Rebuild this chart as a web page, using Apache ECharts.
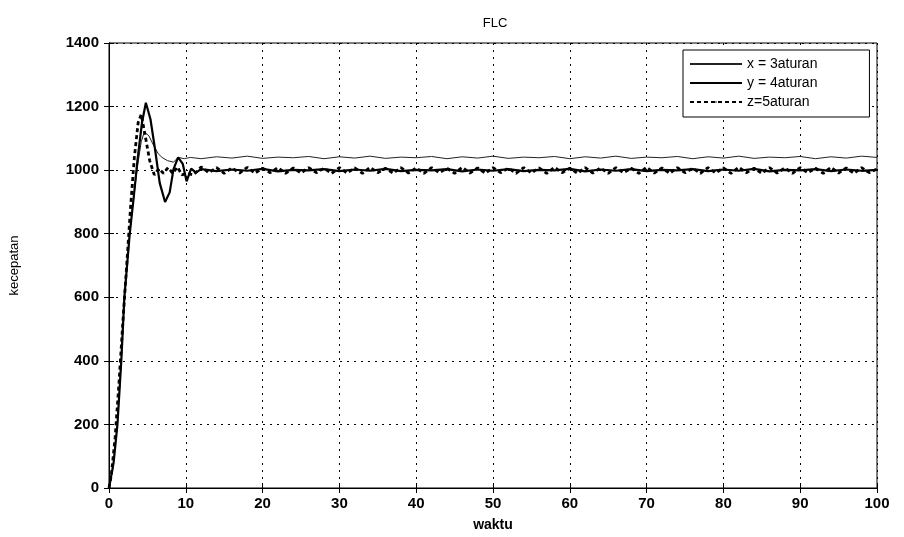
<!DOCTYPE html>
<html>
<head>
<meta charset="utf-8">
<script src="https://cdn.jsdelivr.net/npm/echarts@6/dist/echarts.min.js"></script>
<style>
html, body { margin: 0; padding: 0; background: #fff; }
#chart { width: 904px; height: 537px; }
</style>
</head>
<body>
<div id="chart"></div>
<script>
// nama seri (legend)
var seriesNames = ['x = 3aturan', 'y = 4aturan', 'z=5aturan'];
var xTicks = [0, 10, 20, 30, 40, 50, 60, 70, 80, 90, 100];
var yTicks = [0, 200, 400, 600, 800, 1000, 1200, 1400];

// seri 1: 3 aturan (garis tipis)
var s1Time = [0, 0.5, 1.1, 1.6, 2.0, 2.7, 3.2, 3.7, 4.2, 4.6, 5.2, 5.8, 6.4, 6.9, 7.6, 8.4, 9.0, 9.8, 10.6];
var s1Early = [0, 60, 200, 400, 600, 800, 910, 1010, 1090, 1120, 1108, 1078, 1052, 1040, 1030, 1025, 1040, 1036, 1040];
var s1Tail = [1036, 1042, 1038, 1044, 1037, 1041, 1039, 1043, 1036, 1042, 1038, 1044, 1037, 1041, 1039, 1043,
	1036, 1042, 1038, 1044, 1037, 1041, 1039, 1043, 1036, 1042, 1038, 1044, 1037, 1041, 1039, 1043,
	1036, 1042, 1038, 1044, 1037, 1041, 1039, 1043, 1036, 1042, 1038, 1044, 1040];

// seri 2: 4 aturan (garis tebal)
var s2Time = [0, 0.6, 1.1, 1.6, 2.0, 2.7, 3.2, 3.7, 4.3, 4.8, 5.4, 6.0, 6.6, 7.3, 7.9, 8.4, 9.0, 9.6, 10.1, 10.7, 11.3];
var s2Early = [0, 80, 200, 400, 600, 800, 910, 1030, 1150, 1212, 1160, 1065, 960, 900, 930, 1003, 1040, 1020, 965, 1005, 992];
var s2Tail = [1003, 997, 1002, 998, 1004, 996, 1001, 999, 1003, 997, 1002, 998, 1004, 997, 1001, 999,
	1003, 996, 1002, 998, 1003, 997, 1001, 999, 1004, 996, 1002, 998, 1003, 997, 1001, 999,
	1003, 997, 1002, 998, 1004, 996, 1001, 999, 1003, 997, 1002, 998, 1001];

// seri 3: 5 aturan (putus-putus)
var s3Time = [0, 0.3, 0.8, 1.3, 1.8, 2.3, 2.8, 3.3, 3.8, 4.2, 4.7, 5.3, 5.9, 6.5, 7.1, 7.7, 8.3, 8.9, 9.5, 10.1];
var s3Early = [0, 40, 160, 330, 520, 700, 880, 1040, 1150, 1175, 1110, 1030, 985, 1005, 990, 1008, 990, 1010, 985, 990];
var s3Tail = [985, 1010, 992, 1008, 990, 1007, 991, 1009, 990, 1006,
	992, 1008, 990, 1007, 991, 1008, 992, 1006, 990, 1008,
	991, 1007, 990, 1009, 992, 1006, 990, 1008, 991, 1007,
	990, 1008, 992, 1006, 990, 1009, 991, 1007, 990, 1008,
	992, 1006, 990, 1008, 991, 1007, 990, 1009, 992, 1006,
	990, 1008, 991, 1007, 990, 1008, 992, 1006, 990, 1009,
	991, 1007, 990, 1008, 992, 1006, 990, 1008, 991, 1007,
	990, 1009, 992, 1006, 990, 1008, 991, 1007, 990, 1008,
	992, 1006, 990, 1009, 991, 1007, 990, 1008, 992, 1004];

// titik waktu untuk bagian tunak
var tail2Time = [];
for (var t = 12; t <= 100; t += 2) tail2Time.push(t);
var tail1Time = [];
for (var t = 11; t <= 100; t += 1) tail1Time.push(t);

function pairs(time, vals) {
	var out = [];
	var n = Math.min(time.length, vals.length);
	for (var i = 0; i < n; i++) out.push([time[i], vals[i]]);
	return out;
}

function $ext(a, b) {
	var o = {};
	for (var k in a) o[k] = a[k];
	for (var k in b) o[k] = b[k];
	return o;
}

var fontName = '"Liberation Sans", Arial, sans-serif';

var myChart = echarts.init(document.getElementById('chart'));
var axisCommon = {
	type: 'value',
	axisLine: { show: true, lineStyle: { color: '#000', width: 1 } },
	axisTick: { show: true, inside: true, length: 5, lineStyle: { color: '#000' } }
};

var option = {
	backgroundColor: '#fff',
	animation: false,
	title: {
		text: 'FLC',
		left: 490,
		textAlign: 'center',
		top: 12,
		textStyle: { fontFamily: fontName, fontSize: 13, fontWeight: 'normal', color: '#000' }
	},
	legend: {
		orient: 'vertical',
		left: 683,
		top: 50,
		padding: [7, 52, 8, 6],
		itemGap: 5,
		itemWidth: 52,
		itemHeight: 2,
		backgroundColor: '#fff',
		borderColor: '#000',
		borderWidth: 1,
		borderRadius: 0,
		data: seriesNames,
		textStyle: { fontFamily: fontName, fontSize: 14, color: '#000' }
	},
	grid: {
		left: 107, right: 27, top: 43, bottom: 45,
		show: true, borderColor: '#000', borderWidth: 1
	},
	xAxis: [
		$ext(axisCommon, {
			min: 0, max: 100, interval: 10,
			name: 'waktu',
			nameLocation: 'middle',
			nameGap: 30,
			nameTextStyle: { fontFamily: fontName, fontSize: 14, fontWeight: 'bold', color: '#000' },
			axisLabel: {
				margin: 8, color: '#000', fontFamily: fontName, fontSize: 15, fontWeight: 'bold',
				formatter: function(v) { return xTicks.indexOf(v) >= 0 ? String(v) : ''; }
			},
			splitLine: { show: true, lineStyle: { color: '#000', type: [2, 5], width: 1 } }
		}),
		$ext(axisCommon, {
			position: 'top', min: 0, max: 100, interval: 10,
			axisLabel: { show: false }, splitLine: { show: false }
		})
	],
	yAxis: [
		$ext(axisCommon, {
			min: 0, max: 1400, interval: 200,
			name: 'kecepatan',
			nameLocation: 'middle',
			nameGap: 88,
			nameTextStyle: { fontFamily: fontName, fontSize: 13, color: '#000' },
			axisLabel: {
				margin: 10, color: '#000', fontFamily: fontName, fontSize: 15, fontWeight: 'bold',
				formatter: function(v) { return yTicks.indexOf(v) >= 0 ? String(v) : ''; }
			},
			splitLine: { show: true, lineStyle: { color: '#000', type: [2, 5], width: 1 } }
		}),
		$ext(axisCommon, {
			position: 'right', min: 0, max: 1400, interval: 200,
			axisLabel: { show: false }, splitLine: { show: false }
		})
	],
	series: [{
		name: seriesNames[0],
		type: 'line',
		symbol: 'none',
		lineStyle: { color: '#222', width: 1 },
		itemStyle: { color: '#222' },
		data: pairs(s1Time, s1Early).concat(pairs(tail2Time, s1Tail))
	}, {
		name: seriesNames[1],
		type: 'line',
		symbol: 'none',
		lineStyle: { color: '#000', width: 2.2 },
		itemStyle: { color: '#000' },
		data: pairs(s2Time, s2Early).concat(pairs(tail2Time, s2Tail))
	}, {
		name: seriesNames[2],
		type: 'line',
		symbol: 'none',
		lineStyle: { color: '#000', width: 2.8, type: [4, 3] },
		itemStyle: { color: '#000' },
		data: pairs(s3Time, s3Early).concat(pairs(tail1Time, s3Tail))
	}]
};

myChart.setOption(option);
</script>
</body>
</html>
